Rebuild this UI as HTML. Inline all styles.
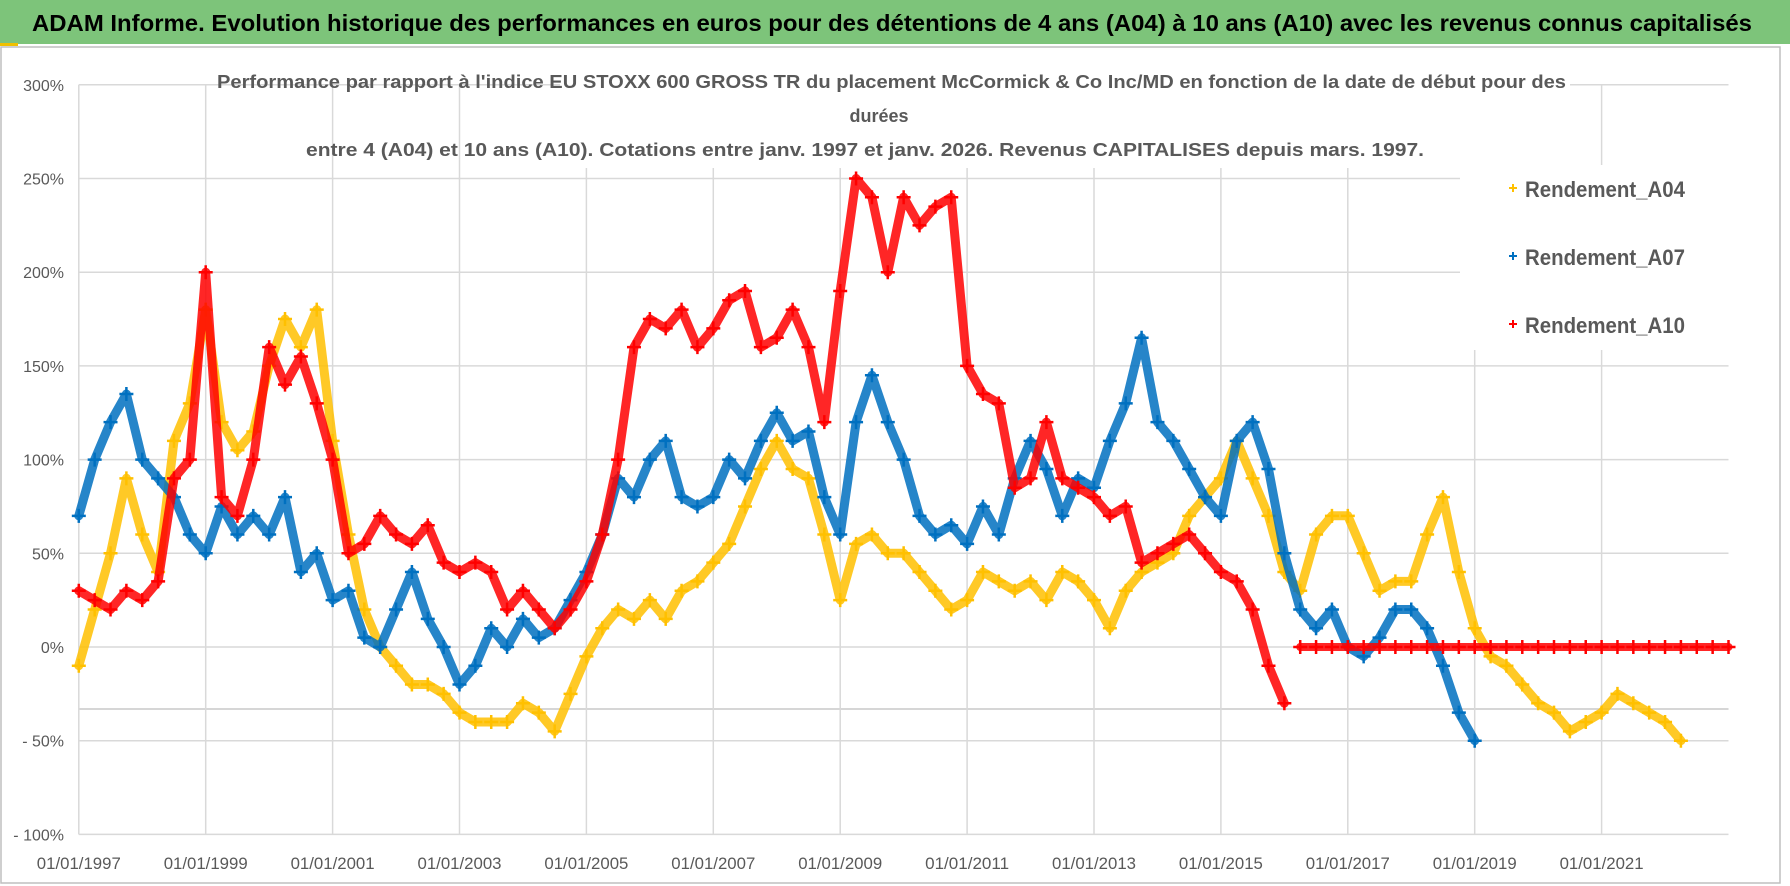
<!DOCTYPE html>
<html><head><meta charset="utf-8"><style>
html,body{margin:0;padding:0;background:#fff;}
svg{display:block;font-family:"Liberation Sans",sans-serif;}
</style></head><body>
<svg id="chart" width="1790" height="886" viewBox="0 0 1790 886">
<rect x="0" y="0" width="1790" height="886" fill="#fff"/>
<rect x="0" y="0" width="1790" height="44" fill="#7dc47a"/>
<rect x="0" y="43" width="18" height="3" fill="#f0c000"/>
<text x="32" y="31" font-size="23" font-weight="bold" fill="#000" textLength="1720" lengthAdjust="spacingAndGlyphs">ADAM Informe. Evolution historique des performances en euros pour des détentions de 4 ans (A04) à 10 ans (A10) avec les revenus connus capitalisés</text>
<rect x="1" y="47" width="1779" height="836" fill="none" stroke="#bfbfbf" stroke-width="1.5"/>
<g id="grid"></g>
<g id="yaxis"></g>
<g id="xaxis"></g>
<g id="series"></g>
<rect x="1460" y="165" width="270" height="185" fill="#fff"/>
<rect x="560" y="60" width="1010" height="108" fill="#fff"/>
<g fill="#595959" font-weight="bold" font-size="18">
<text x="217" y="88" textLength="1349" lengthAdjust="spacingAndGlyphs">Performance par rapport à l'indice EU STOXX 600 GROSS TR  du placement McCormick &amp; Co Inc/MD en fonction de la date de début pour des</text>
<text x="879" y="122" text-anchor="middle">durées</text>
<text x="306" y="156" textLength="1118" lengthAdjust="spacingAndGlyphs">entre 4 (A04) et 10 ans (A10). Cotations entre janv. 1997 et janv. 2026. Revenus CAPITALISES depuis mars. 1997.</text>
</g>
<g id="legend"></g>
</svg>
<script>
const yTicks=[300,250,200,150,100,50,0,-50,-100];
const yTickLabels=["300%","250%","200%","150%","100%","50%","0%","- 50%","- 100%"];
const xTickYears=[1997,1999,2001,2003,2005,2007,2009,2011,2013,2015,2017,2019,2021];
const xTickLabels=["01/01/1997","01/01/1999","01/01/2001","01/01/2003","01/01/2005","01/01/2007","01/01/2009","01/01/2011","01/01/2013","01/01/2015","01/01/2017","01/01/2019","01/01/2021"];
const seriesNames=["Rendement_A04","Rendement_A07","Rendement_A10"];
const stepYears=0.25;
const a04Start=1997;
const a04Values=[-10,20,50,90,60,40,110,130,180,120,105,115,150,175,160,180,110,60,20,0,-10,-20,-20,-25,-35,-40,-40,-40,-30,-35,-45,-25,-5,10,20,15,25,15,30,35,45,55,75,95,110,95,90,60,25,55,60,50,50,40,30,20,25,40,35,30,35,25,40,35,25,10,30,40,45,50,70,80,90,110,90,70,40,30,60,70,70,50,30,35,35,60,80,40,10,-5,-10,-20,-30,-35,-45,-40,-35,-25,-30,-35,-40,-50];
const a07Start=1997;
const a07Values=[70,100,120,135,100,90,80,60,50,75,60,70,60,80,40,50,25,30,5,0,20,40,15,0,-20,-10,10,0,15,5,10,25,40,60,90,80,100,110,80,75,80,100,90,110,125,110,115,80,60,120,145,120,100,70,60,65,55,75,60,90,110,95,70,90,85,110,130,165,120,110,95,80,70,110,120,95,50,20,10,20,0,-5,5,20,20,10,-10,-35,-50];
const a10Start=1997;
const a10Values=[30,25,20,30,25,35,90,100,200,80,70,100,160,140,155,130,100,50,55,70,60,55,65,45,40,45,40,20,30,20,10,20,35,60,100,160,175,170,180,160,170,185,190,160,165,180,160,120,190,250,240,200,240,225,235,240,150,135,130,85,90,120,90,85,80,70,75,45,50,55,60,50,40,35,20,-10,-30];
const a10ZeroStart=2016.25;
const a10ZeroValues=[0,0,0,0,0,0,0,0,0,0,0,0,0,0,0,0,0,0,0,0,0,0,0,0,0,0,0,0];
const colors=["#FFC000","#0070C0","#FF0000"];
const NS="http://www.w3.org/2000/svg";
const X0=78.8,XPY=63.45,Y0=647,YPP=93.7/50;
function xs(t){return X0+(t-1997)*XPY;}
function ys(v){return Y0-v*YPP;}
function mk(tag,attrs,parent){const e=document.createElementNS(NS,tag);for(const k in attrs)e.setAttribute(k,attrs[k]);parent.appendChild(e);return e;}
const grid=document.getElementById('grid'),yax=document.getElementById('yaxis'),xax=document.getElementById('xaxis'),ser=document.getElementById('series'),leg=document.getElementById('legend');
const xEnd=xs(2023);
yTicks.forEach((v,i)=>{
  const l=mk('line',{x1:X0,x2:xEnd,y1:ys(v),y2:ys(v),stroke:'#d9d9d9','stroke-width':1.5},grid);
  
  
  const t=mk('text',{x:64,y:ys(v)+6,'text-anchor':'end','font-size':16,fill:'#595959'},yax);
  t.textContent=yTickLabels[i];
  
  
});
const extra=mk('line',{x1:X0,x2:xEnd,y1:709,y2:709,stroke:'#c8c8c8','stroke-width':1.5},grid);


xTickYears.forEach((yr,i)=>{
  const l=mk('line',{x1:xs(yr),x2:xs(yr),y1:ys(300),y2:ys(-100),stroke:'#d9d9d9','stroke-width':1.5},grid);
  
  
  const t=mk('text',{x:xs(yr),y:869,'text-anchor':'middle','font-size':17,fill:'#595959',textLength:84,lengthAdjust:'spacingAndGlyphs'},xax);
  t.textContent=xTickLabels[i];
  
  
});
function drawSeries(start,vals,color,name,lw){
  const g=mk('g',{},ser);
  
  
  const pts=vals.map((v,i)=>xs(start+i*stepYears).toFixed(1)+','+ys(v).toFixed(1)).join(' ');
  const pl=mk('polyline',{points:pts,fill:'none',stroke:color,'stroke-width':lw,'stroke-linejoin':'round','stroke-linecap':'round',opacity:0.85},g);
  
  
  vals.forEach((v,i)=>{
    const cx=xs(start+i*stepYears),cy=ys(v);
    const p=mk('path',{d:`M${cx-7},${cy}H${cx+7}M${cx},${cy-7}V${cy+7}`,stroke:color,'stroke-width':2.5},g);
    
    
  });
}
drawSeries(a04Start,a04Values,colors[0],'series-a04',9);
drawSeries(a07Start,a07Values,colors[1],'series-a07',9);
drawSeries(a10Start,a10Values,colors[2],'series-a10',9);
drawSeries(a10ZeroStart,a10ZeroValues,colors[2],'series-a10-zero',8);
const legY=[197,265,333];
seriesNames.forEach((n,i)=>{
  const g=mk('g',{},leg);
  
  
  const m=mk('path',{d:`M1509,${legY[i]-9}h8M1513,${legY[i]-13}v8`,stroke:colors[i],'stroke-width':2},g);
  
  
  const t=mk('text',{x:1525,y:legY[i],'font-size':22,'font-weight':'bold',fill:'#595959',textLength:160,lengthAdjust:'spacingAndGlyphs'},g);
  t.textContent=n;
  
  
});
</script>
</body></html>
